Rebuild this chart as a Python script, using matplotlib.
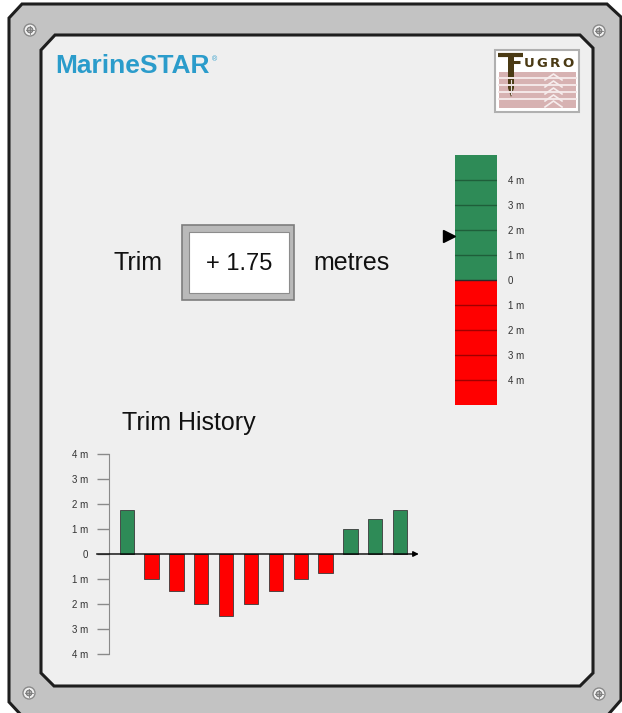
import matplotlib
matplotlib.use("Agg")
import matplotlib.pyplot as plt
from matplotlib.patches import Polygon, Rectangle, Circle

# ---- data ----
trim_value = 1.75
history_values = [1.75, -1.0, -1.5, -2.0, -2.5, -2.0, -1.5, -1.0, -0.75, 1.0, 1.4, 1.75]
scale_levels = [4, 3, 2, 1, 0, -1, -2, -3, -4]
scale_labels = ["4 m", "3 m", "2 m", "1 m", "0", "1 m", "2 m", "3 m", "4 m"]
gauge_range = 5

GREEN = "#2e8b57"
RED = "#ff0000"
W, H = 622, 713

plt.rcParams['font.family'] = ['Liberation Sans', 'DejaVu Sans']
fig = plt.figure(figsize=(W / 100, H / 100), dpi=100)
fig.patch.set_facecolor("white")


def px_axes(x0, y0, x1, y1):
    # axes placed by pixel box (y measured from top)
    return fig.add_axes([x0 / W, 1 - y1 / H, (x1 - x0) / W, (y1 - y0) / H])


# ---- background panel ----
bg = fig.add_axes([0, 0, 1, 1])
bg.set_xlim(0, W)
bg.set_ylim(H, 0)
bg.axis("off")

outer = [(9, 18), (22, 4), (607, 4), (621, 17), (621, 700), (607, 716), (22, 716), (9, 702)]
bg.add_patch(Polygon(outer, closed=True, fc="#c3c3c3", ec="#1e1e1e", lw=2.2))
inner = [(41, 50), (55, 35), (580, 35), (593, 48), (593, 673), (580, 686), (54, 686), (41, 673)]
bg.add_patch(Polygon(inner, closed=True, fc="#efefef", ec="#1e1e1e", lw=2.2))

# screws
for (sx, sy) in [(30, 30), (599, 31), (29, 693), (599, 694)]:
    bg.add_patch(Circle((sx, sy), 6, fc="#f2f2f2", ec="#8a8a8a", lw=1))
    bg.add_patch(Circle((sx, sy), 2.8, fc="#b5b5b5", ec="#7a7a7a", lw=0.8))
    bg.plot([sx - 4, sx + 4], [sy, sy], color="#7a7a7a", lw=0.6)
    bg.plot([sx, sx], [sy - 4, sy + 4], color="#7a7a7a", lw=0.6)

# MarineSTAR logo
logo = bg.text(55, 73, "MarineSTAR", fontsize=19, fontweight="bold",
               color="#2b9ccb", va="baseline", ha="left")
bg.annotate("®", xy=(1, 1), xycoords=logo, xytext=(2, -2), textcoords="offset points",
            fontsize=5, color="#2b9ccb", va="top", ha="left")

# Fugro logo
bg.add_patch(Rectangle((495, 50), 84, 62, fc="white", ec="#b0b0b0", lw=1.5))
bg.add_patch(Rectangle((499, 72), 77, 36, fc="#d7b2b2", ec="none"))
for ly in [78, 85, 92, 99]:
    bg.plot([499, 576], [ly, ly], color="#f4e8e8", lw=1.4)
for cy in [74, 81, 88, 95, 101]:
    bg.plot([545, 553.5, 562], [cy + 6, cy, cy + 6], color="#f6eded", lw=1.2)
FUGRO_C = "#4a3a14"
bg.plot([498, 523], [55, 55], color=FUGRO_C, lw=3, solid_capstyle="butt")
bg.plot([510, 520], [62, 62], color=FUGRO_C, lw=2.2, solid_capstyle="butt")
bg.add_patch(Polygon([(508, 55), (514, 55), (514, 88), (511, 97), (508, 88)],
                     closed=True, fc=FUGRO_C, ec="none"))
bg.plot([511, 511], [80, 94], color="#e8dede", lw=0.8)
for lx, ch in zip([529, 542, 555, 568], "UGRO"):
    bg.text(lx, 67, ch, fontsize=9.5, fontweight="heavy", color=FUGRO_C,
            family=["DejaVu Sans"], ha="center", va="baseline")

# trim readout
bg.text(113, 270, "Trim", fontsize=18, color="#111111", ha="left", va="baseline")
bg.text(313, 270, "metres", fontsize=18, color="#111111", ha="left", va="baseline")
bg.add_patch(Rectangle((182, 225), 112, 75, fc="#b9b9b9", ec="#7d7d7d", lw=1.2))
bg.add_patch(Rectangle((189, 232), 100, 61, fc="white", ec="#8c8c8c", lw=0.8))
bg.text(239, 270, "+ %.2f" % trim_value, fontsize=17, color="#111111",
        ha="center", va="baseline")

bg.text(189, 430, "Trim History", fontsize=18, color="#111111", ha="center", va="baseline")

# ---- trim gauge ----
gax = px_axes(455, 155, 497, 405)
gax.set_xlim(-0.5, 0.5)
gax.set_ylim(-gauge_range, gauge_range)
gax.patch.set_alpha(0)
gax.bar(0, gauge_range, width=1, bottom=0, color=GREEN, edgecolor="none")
gax.bar(0, -gauge_range, width=1, bottom=0, color=RED, edgecolor="none")
for lv in scale_levels:
    c = "#1f5e3a" if lv > 0 else ("#2a2a2a" if lv == 0 else "#a00000")
    gax.axhline(lv, color=c, lw=1)
for s in gax.spines.values():
    s.set_visible(False)
gax.set_xticks([])
gax.yaxis.tick_right()
gax.set_yticks(scale_levels)
gax.set_yticklabels(scale_labels)
gax.tick_params(axis="y", length=0, pad=8, labelsize=7, labelcolor="#333333")
gax.plot([-0.64], [trim_value], marker=">", color="black", markersize=8, clip_on=False)

# ---- trim history ----
hax = px_axes(60, 440, 430, 665)
hax.set_xlim(-2.684, 12.201)
hax.set_ylim(-4.458, 4.578)
hax.patch.set_alpha(0)
xs = list(range(len(history_values)))
colors = [GREEN if v > 0 else RED for v in history_values]
hax.bar(xs, history_values, width=0.58, color=colors, edgecolor="#3a3a3a", linewidth=0.6, zorder=3)
for k in ["top", "right", "bottom"]:
    hax.spines[k].set_visible(False)
hax.spines["left"].set_position(("data", -0.7))
hax.spines["left"].set_bounds(-4, 4)
hax.spines["left"].set_color("#8a8a8a")
hax.set_xticks([])
hax.set_yticks(scale_levels)
hax.set_yticklabels(scale_labels)
hax.tick_params(axis="y", length=9, width=1, color="#8a8a8a", pad=6,
                labelsize=7, labelcolor="#333333")
hax.annotate("", xy=(11.75, 0), xytext=(-1.21, 0),
             arrowprops=dict(arrowstyle="-|>", color="black", lw=1, mutation_scale=8,
                             shrinkA=0, shrinkB=0), zorder=4)

fig.savefig("out.png", dpi=100, facecolor="white")
